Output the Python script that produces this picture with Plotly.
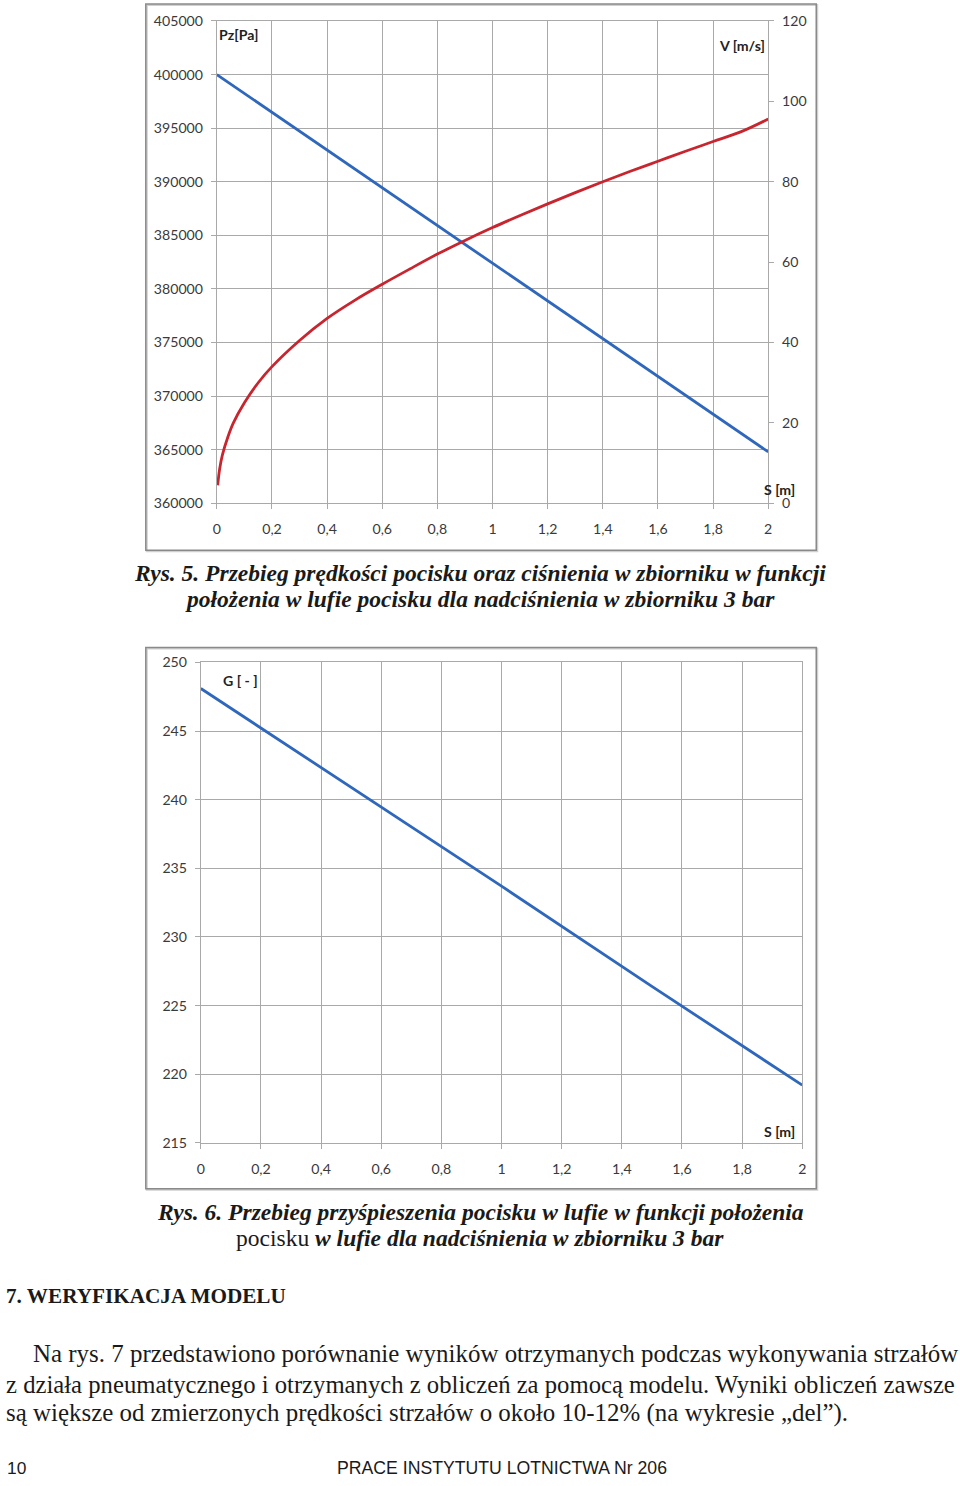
import plotly.graph_objects as go

W, H = 960, 1486

# ---------------- data ----------------
s_p = [0.0, 0.5, 1.0, 1.5, 2.0]
pz = [400000, 391200, 382400, 373600, 364800]

s_v = [0.003, 0.01, 0.02, 0.04, 0.06, 0.1, 0.15, 0.2, 0.3, 0.4, 0.5, 0.6, 0.7, 0.8,
       0.9, 1.0, 1.1, 1.2, 1.3, 1.4, 1.5, 1.6, 1.7, 1.8, 1.9, 2.0]
v = [4.5, 8.5, 12.0, 16.5, 20.0, 25.0, 30.0, 34.0, 40.5, 46.0, 50.5, 54.5, 58.3, 62.0,
     65.4, 68.6, 71.6, 74.5, 77.3, 80.0, 82.6, 85.1, 87.6, 90.0, 92.4, 95.6]

s_g = [0.0, 0.5, 1.0, 1.5, 2.0]
g = [248.1, 240.9, 233.7, 226.4, 219.2]

x_ticks = [0, 0.2, 0.4, 0.6, 0.8, 1.0, 1.2, 1.4, 1.6, 1.8, 2.0]
x_ticktext = ["0", "0,2", "0,4", "0,6", "0,8", "1", "1,2", "1,4", "1,6", "1,8", "2"]
pz_ticks = [360000, 365000, 370000, 375000, 380000, 385000, 390000, 395000, 400000, 405000]
v_ticks = [0, 20, 40, 60, 80, 100, 120]
g_ticks = [215, 220, 225, 230, 235, 240, 245, 250]

# ---------------- helpers ----------------
# map page pixel positions (as seen in the final picture) to paper fractions
SX, OX = 0.991, 4.3
SY, OY = 0.9878, 9.05
FS = 1.0 / 0.99

def px(x):
    return max(0.0, (x - OX) / SX) / W

def py(y):
    return 1 - ((y - OY) / SY) / H

GRID = "#a9a9a9"
TICKFONT = dict(family="Lato", size=14 * FS, color="#3a3a3a")
BLUE = "#2f67bd"
RED = "#c8252f"

fig = go.Figure()
fig.add_trace(go.Scatter(x=s_p, y=pz, mode="lines", line=dict(color=BLUE, width=2.8),
                         xaxis="x", yaxis="y", showlegend=False))
fig.add_trace(go.Scatter(x=s_v, y=v, mode="lines", line=dict(color=RED, width=2.8, shape="spline"),
                         xaxis="x", yaxis="y3", showlegend=False))
fig.add_trace(go.Scatter(x=s_g, y=g, mode="lines", line=dict(color=BLUE, width=2.8),
                         xaxis="x2", yaxis="y2", showlegend=False))

common_x = dict(tickmode="array", tickvals=x_ticks, ticktext=x_ticktext, range=[0, 2],
                showgrid=True, gridcolor=GRID, gridwidth=1, zeroline=False,
                showline=True, linecolor=GRID, linewidth=1, mirror=True,
                ticks="outside", ticklen=5, tickcolor=GRID, tickfont=TICKFONT,
                ticklabelstandoff=8)
common_y = dict(showgrid=True, gridcolor=GRID, gridwidth=1, zeroline=False,
                showline=True, linecolor=GRID, linewidth=1, mirror=True,
                ticks="outside", ticklen=5, tickcolor=GRID, tickfont=TICKFONT,
                ticklabelstandoff=5)

fig.update_layout(
    width=W, height=H,
    margin=dict(l=0, r=0, t=0, b=0),
    paper_bgcolor="white", plot_bgcolor="white",
    showlegend=False,
    xaxis=dict(domain=[px(217), px(768)], anchor="y", **common_x),
    yaxis=dict(domain=[py(503), py(21)], anchor="x", range=[360000, 405000],
               tickmode="array", tickvals=pz_ticks, ticktext=[str(t) for t in pz_ticks],
               **common_y),
    yaxis3=dict(overlaying="y", side="right", anchor="x", range=[0, 120],
                tickmode="array", tickvals=v_ticks, ticktext=[str(t) for t in v_ticks],
                showgrid=False, zeroline=False, showline=True, linecolor=GRID,
                ticks="outside", ticklen=5, tickcolor=GRID, tickfont=TICKFONT,
                ticklabelstandoff=5),
    xaxis2=dict(domain=[px(201), px(802)], anchor="y2", **common_x),
    yaxis2=dict(domain=[py(1142), py(662)], anchor="x2", range=[215, 250],
                tickmode="array", tickvals=g_ticks, ticktext=[str(t) for t in g_ticks],
                **common_y),
)

# chart frames
for (x0, y0, x1, y1) in [(146, 4, 816, 550), (146, 647, 816, 1188)]:
    fig.add_shape(type="rect", xref="paper", yref="paper",
                  x0=px(x0 + 1), y0=py(y1 + 1), x1=px(x1 + 1), y1=py(y0 + 1),
                  line=dict(color="#d0d0d0", width=2))
    fig.add_shape(type="rect", xref="paper", yref="paper",
                  x0=px(x0), y0=py(y1), x1=px(x1), y1=py(y0),
                  line=dict(color="#8a8a8a", width=1.5))

def ann(text, x, y, size, family, color="#222", xanchor="center", bold=False):
    fig.add_annotation(text=("<b>%s</b>" % text) if bold else text,
                       x=px(x), y=py(y), xref="paper", yref="paper",
                       xanchor=xanchor, yanchor="middle", showarrow=False,
                       font=dict(size=size * FS, family=family, color=color))

# axis labels inside charts
ann("Pz[Pa]", 217, 35, 14, "Lato", "#222", "left", True)
ann("V [m/s]", 767, 46, 14, "Lato", "#222", "right", True)
ann("S [m]", 779, 489, 14, "Lato", "#222", "center", True)
ann("G [ - ]", 221, 680, 14, "Lato", "#222", "left", True)
ann("S [m]", 779, 1131, 14, "Lato", "#222", "center", True)

# captions
SERIF = "Liberation Serif"
CAP = 23.3
ann("<b><i>Rys. 5. Przebieg prędkości pocisku oraz ciśnienia w zbiorniku w funkcji</i></b>",
    480, 573, CAP, SERIF, "#1a1a1a")
ann("<b><i>położenia w lufie pocisku dla nadciśnienia w zbiorniku 3 bar</i></b>",
    480, 599, CAP, SERIF, "#1a1a1a")
ann("<b><i>Rys. 6. Przebieg przyśpieszenia pocisku w lufie w funkcji położenia</i></b>",
    480, 1211, CAP, SERIF, "#1a1a1a")
ann("pocisku <b><i>w lufie dla nadciśnienia w zbiorniku 3 bar</i></b>",
    480, 1237, CAP, SERIF, "#1a1a1a")

# section heading and body text
BODY = 24.7
ann("<b>7. WERYFIKACJA MODELU</b>", 4, 1295, 21, SERIF, "#1a1a1a", "left")
ann("Na rys. 7 przedstawiono porównanie wyników otrzymanych podczas wykonywania strzałów",
    31, 1353, BODY, SERIF, "#1a1a1a", "left")
ann("z działa pneumatycznego i otrzymanych z obliczeń za pomocą modelu. Wyniki obliczeń zawsze",
    3, 1383, 24.45, SERIF, "#1a1a1a", "left")
ann("są większe od zmierzonych prędkości strzałów o około 10-12% (na wykresie „del”).",
    4, 1412, BODY, SERIF, "#1a1a1a", "left")

# footer (kept inside the drawable page)
ann("10", 5, 1467, 17.2, "Liberation Sans", "#1a1a1a", "left")
ann("PRACE INSTYTUTU LOTNICTWA Nr 206", 502, 1467, 17.5, "Liberation Sans", "#1a1a1a", "center")

fig.write_html("out.html")
